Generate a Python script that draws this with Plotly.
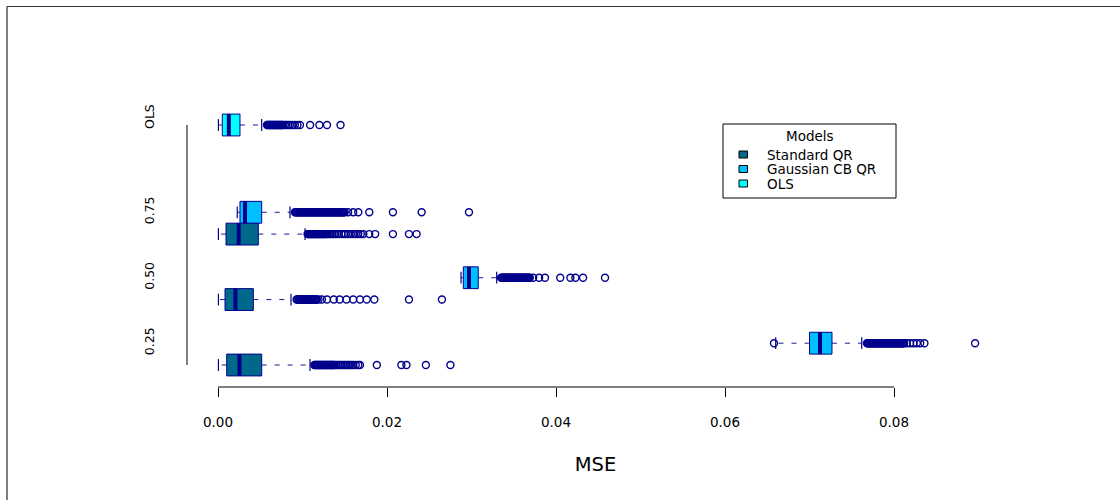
import plotly.graph_objects as go

# ---------------- data ----------------
quantiles = ["0.25", "0.50", "0.75"]
models = ["Standard QR", "Gaussian CB QR", "OLS"]
x_tick_values = [0.00, 0.02, 0.04, 0.06, 0.08]
x_title = "MSE"
legend_title = "Models"

# Standard QR, one entry per quantile (0.25, 0.50, 0.75)
std_lower = [0.00005, 0.00005, 0.00005]
std_q1 = [0.00103, 0.00083, 0.00095]
std_median = [0.00254, 0.00207, 0.00245]
std_q3 = [0.00517, 0.00418, 0.00477]
std_upper = [0.01089, 0.00864, 0.01030]
std_outliers_025 = [0.0114, 0.0115, 0.0116, 0.0117, 0.0118, 0.0119, 0.0120, 0.0121,
                    0.0122, 0.0123, 0.0124, 0.0125, 0.0126, 0.0127, 0.0128, 0.0129,
                    0.0130, 0.0131, 0.0132, 0.0133, 0.0134, 0.0135, 0.0136, 0.0137,
                    0.0138, 0.0140, 0.0142, 0.0144, 0.0146, 0.0148, 0.0150, 0.0152,
                    0.0154, 0.0156, 0.0158, 0.0160, 0.0163, 0.0166, 0.0168,
                    0.0188, 0.0217, 0.0223, 0.0246, 0.0275]
std_outliers_050 = [0.0093, 0.0094, 0.0095, 0.0096, 0.0097, 0.0098, 0.0099, 0.0100,
                    0.0101, 0.0102, 0.0103, 0.0104, 0.0105, 0.0106, 0.0107, 0.0108,
                    0.0109, 0.0110, 0.0111, 0.0112, 0.0113, 0.0114, 0.0115, 0.0116,
                    0.0117, 0.0119, 0.0123, 0.0129, 0.0137, 0.0144, 0.0152, 0.0160,
                    0.0168, 0.0176, 0.0185, 0.0226, 0.0265]
std_outliers_075 = [0.0106, 0.0107, 0.0108, 0.0109, 0.0110, 0.0111, 0.0112, 0.0113,
                    0.0114, 0.0115, 0.0116, 0.0117, 0.0118, 0.0119, 0.0120, 0.0121,
                    0.0122, 0.0123, 0.0124, 0.0125, 0.0126, 0.0127, 0.0128, 0.0129,
                    0.0131, 0.0133, 0.0135, 0.0137, 0.0139, 0.0141, 0.0143, 0.0146,
                    0.0149, 0.0151, 0.0154, 0.0157, 0.0160, 0.0163, 0.0166, 0.0169,
                    0.0172, 0.0179, 0.0186, 0.0207, 0.0226, 0.0235]

# Gaussian CB QR
gauss_lower = [0.0660, 0.02876, 0.00228]
gauss_q1 = [0.0700, 0.02903, 0.00260]
gauss_median = [0.07124, 0.02970, 0.00320]
gauss_q3 = [0.07266, 0.03080, 0.00517]
gauss_upper = [0.07618, 0.03298, 0.00852]
gauss_outliers_025 = [0.0658,
                      0.0768, 0.0769, 0.0770, 0.0771, 0.0772, 0.0773, 0.0774, 0.0775,
                      0.0776, 0.0777, 0.0778, 0.0779, 0.0780, 0.0781, 0.0782, 0.0783,
                      0.0784, 0.0785, 0.0786, 0.0787, 0.0788, 0.0789, 0.0790, 0.0791,
                      0.0792, 0.0793, 0.0794, 0.0795, 0.0796, 0.0797, 0.0798, 0.0799,
                      0.0800, 0.0801, 0.0802, 0.0803, 0.0804, 0.0805, 0.0806, 0.0807,
                      0.0808, 0.0809, 0.0810, 0.0811, 0.0812,
                      0.0815, 0.0819, 0.0823, 0.0827, 0.0831, 0.0836, 0.0896]
gauss_outliers_050 = [0.0335, 0.0336, 0.0337, 0.0338, 0.0339, 0.0340, 0.0341, 0.0342,
                      0.0343, 0.0344, 0.0345, 0.0346, 0.0347, 0.0348, 0.0349, 0.0350,
                      0.0351, 0.0352, 0.0353, 0.0354, 0.0355, 0.0356, 0.0357, 0.0358,
                      0.0359, 0.0360, 0.0361, 0.0362, 0.0363, 0.0364, 0.0365, 0.0366,
                      0.0367, 0.0368, 0.0369,
                      0.0373, 0.0380, 0.0387, 0.0405, 0.0417, 0.0423, 0.0432, 0.0458]
gauss_outliers_075 = [0.0091, 0.0092, 0.0093, 0.0094, 0.0095, 0.0096, 0.0097, 0.0098,
                      0.0099, 0.0100, 0.0101, 0.0102, 0.0103, 0.0104, 0.0105, 0.0106,
                      0.0107, 0.0108, 0.0109, 0.0110, 0.0111, 0.0112, 0.0113, 0.0114,
                      0.0115, 0.0116, 0.0117, 0.0118, 0.0119, 0.0120, 0.0121, 0.0122,
                      0.0123, 0.0124, 0.0125, 0.0126, 0.0127, 0.0128, 0.0129, 0.0130,
                      0.0131, 0.0132, 0.0133, 0.0134, 0.0135, 0.0136, 0.0137, 0.0138,
                      0.0139, 0.0140, 0.0141, 0.0142, 0.0143, 0.0144, 0.0145, 0.0146,
                      0.0147, 0.0148, 0.0149, 0.0150,
                      0.0154, 0.0160, 0.0166, 0.0179, 0.0207, 0.0241, 0.0297]

# OLS (single box)
ols_lower = 0.00005
ols_q1 = 0.00051
ols_median = 0.00128
ols_q3 = 0.00260
ols_upper = 0.00517
ols_outliers = [0.0058, 0.0059, 0.0060, 0.0061, 0.0062, 0.0063, 0.0064, 0.0065,
                0.0066, 0.0067, 0.0068, 0.0069, 0.0070, 0.0071, 0.0072, 0.0073,
                0.0074, 0.0075, 0.0076, 0.0077, 0.0079, 0.0081, 0.0083, 0.0085,
                0.0088, 0.0091, 0.0094, 0.0097, 0.0109, 0.0120, 0.0129, 0.0145]

std_outliers = [std_outliers_025, std_outliers_050, std_outliers_075]
gauss_outliers = [gauss_outliers_025, gauss_outliers_050, gauss_outliers_075]

# ---------------- layout / style constants ----------------
W, H = 1120, 500
ML, MR, MT, MB = 187, 116, 103, 113
PW, PH = W - ML - MR, H - MT - MB
X_RANGE = [-0.003669, 0.093018]
Y_RANGE = [-0.008, 13.008]
OLS_SLOT = 12
OLS_LABEL_SHIFT = 0.3
HALF = 0.5
STAPLE = 0.27
DARK = "#00008B"
WHISKER = "#1a1a96"
FILLS = ["#00688B", "#00BFFF", "#00FFFF"]
FONT = "DejaVu Sans"


def pxx(px):
    return (px - ML) / PW


def pxy(py):
    return (H - MB - py) / PH


boxes = []
for i in range(len(quantiles)):
    boxes.append(dict(pos=3 * i + 1, fill=FILLS[0], lo=std_lower[i], q1=std_q1[i],
                      med=std_median[i], q3=std_q3[i], hi=std_upper[i], out=std_outliers[i]))
    boxes.append(dict(pos=3 * i + 2, fill=FILLS[1], lo=gauss_lower[i], q1=gauss_q1[i],
                      med=gauss_median[i], q3=gauss_q3[i], hi=gauss_upper[i], out=gauss_outliers[i]))
boxes.append(dict(pos=OLS_SLOT, fill=FILLS[2], lo=ols_lower, q1=ols_q1, med=ols_median,
                  q3=ols_q3, hi=ols_upper, out=ols_outliers))

fig = go.Figure()

# whiskers (dashed)
wx, wy = [], []
for b in boxes:
    p = b["pos"]
    wx += [b["q3"], b["hi"], None, b["q1"], b["lo"], None]
    wy += [p, p, None, p, p, None]
fig.add_trace(go.Scatter(x=wx, y=wy, mode="lines", hoverinfo="skip", showlegend=False,
                         line=dict(color=WHISKER, width=1, dash="5px,8px")))

# staples
sx, sy = [], []
for b in boxes:
    p = b["pos"]
    sx += [b["hi"], b["hi"], None, b["lo"], b["lo"], None]
    sy += [p - STAPLE, p + STAPLE, None, p - STAPLE, p + STAPLE, None]
fig.add_trace(go.Scatter(x=sx, y=sy, mode="lines", hoverinfo="skip", showlegend=False,
                         line=dict(color=DARK, width=1.2)))

# boxes
for b in boxes:
    p = b["pos"]
    fig.add_trace(go.Scatter(
        x=[b["q1"], b["q3"], b["q3"], b["q1"], b["q1"]],
        y=[p - HALF, p - HALF, p + HALF, p + HALF, p - HALF],
        mode="lines", fill="toself", fillcolor=b["fill"], hoverinfo="skip",
        showlegend=False, line=dict(color=DARK, width=1)))

# medians
mx, my = [], []
for b in boxes:
    p = b["pos"]
    mx += [b["med"], b["med"], None]
    my += [p - HALF, p + HALF, None]
fig.add_trace(go.Scatter(x=mx, y=my, mode="lines", hoverinfo="skip", showlegend=False,
                         line=dict(color=DARK, width=4)))

# outliers
ox, oy = [], []
for b in boxes:
    ox += b["out"]
    oy += [b["pos"]] * len(b["out"])
fig.add_trace(go.Scatter(x=ox, y=oy, mode="markers", showlegend=False,
                         marker=dict(symbol="circle-open", size=7, color=DARK,
                                     line=dict(color=DARK, width=1.4))))

shapes = []
# y axis line (from first to last slot)
shapes.append(dict(type="line", xref="paper", yref="y", x0=0, x1=0, y0=1, y1=OLS_SLOT,
                   line=dict(color="black", width=1)))
# x axis line (first to last tick)
shapes.append(dict(type="line", xref="x", yref="paper", x0=x_tick_values[0],
                   x1=x_tick_values[-1], y0=0, y1=0, line=dict(color="black", width=1)))
# outer frame (top and left)
shapes.append(dict(type="line", xref="paper", yref="paper", x0=pxx(7), x1=pxx(W),
                   y0=pxy(6.5), y1=pxy(6.5), line=dict(color="#333333", width=1.2)))
shapes.append(dict(type="line", xref="paper", yref="paper", x0=pxx(7), x1=pxx(7),
                   y0=pxy(6.5), y1=pxy(H), line=dict(color="black", width=1)))

# legend (drawn manually, R style)
annotations = []
shapes.append(dict(type="rect", xref="paper", yref="paper", x0=pxx(723), x1=pxx(896),
                   y0=pxy(198), y1=pxy(124), line=dict(color="black", width=1),
                   fillcolor="white", layer="above"))
annotations.append(dict(xref="paper", yref="paper", x=pxx(809.5), y=pxy(135.5),
                        text=legend_title, showarrow=False, xanchor="center",
                        yanchor="middle", font=dict(family=FONT, size=13.5, color="black")))
for k, name in enumerate(models):
    cy = 154.5 + 14.5 * k
    shapes.append(dict(type="rect", xref="paper", yref="paper", x0=pxx(739), x1=pxx(747.5),
                       y0=pxy(cy + 3.5), y1=pxy(cy - 3.5), fillcolor=FILLS[k],
                       line=dict(color="black", width=1), layer="above"))
    annotations.append(dict(xref="paper", yref="paper", x=pxx(765), y=pxy(cy),
                            text=name, showarrow=False, xanchor="left", yanchor="middle",
                            font=dict(family=FONT, size=13.5, color="black")))

y_tick_vals = [3 * i + 2 for i in range(len(quantiles))] + [OLS_SLOT + OLS_LABEL_SHIFT]
y_tick_text = quantiles + ["OLS"]

fig.update_layout(
    width=W, height=H,
    margin=dict(l=ML, r=MR, t=MT, b=MB, autoexpand=False),
    paper_bgcolor="white", plot_bgcolor="white",
    showlegend=False,
    font=dict(family=FONT, color="black"),
    shapes=shapes, annotations=annotations,
    xaxis=dict(range=X_RANGE, showgrid=False, zeroline=False, showline=False,
               tickvals=x_tick_values, tickformat=".2f", ticks="outside", ticklen=9,
               tickwidth=1, tickcolor="black", ticklabelstandoff=14,
               tickfont=dict(family=FONT, size=13.5, color="black"),
               title=dict(text=x_title, standoff=28,
                          font=dict(family=FONT, size=19.5, color="black"))),
    yaxis=dict(range=Y_RANGE, showgrid=False, zeroline=False, showline=False,
               tickvals=y_tick_vals, ticktext=y_tick_text, ticks="", tickangle=-90,
               ticklabelstandoff=30,
               tickfont=dict(family=FONT, size=12.5, color="black")),
)

fig.write_html("out.html")
